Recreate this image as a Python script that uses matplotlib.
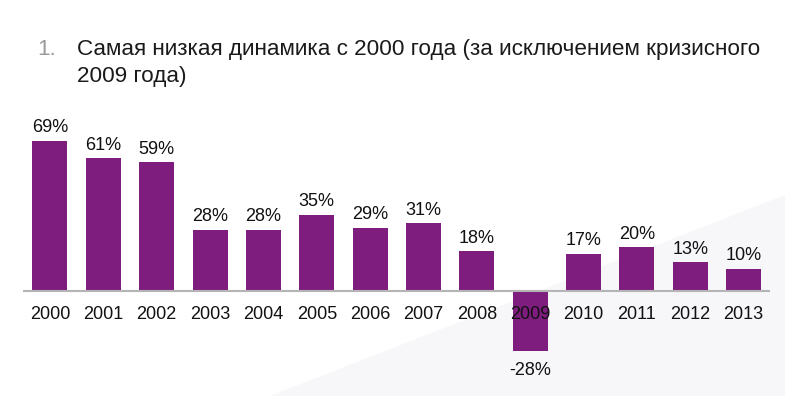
import numpy as np
import matplotlib.pyplot as plt
from matplotlib.patches import Polygon

years = ['2000', '2001', '2002', '2003', '2004', '2005', '2006',
         '2007', '2008', '2009', '2010', '2011', '2012', '2013']
growth = [69, 61, 59, 28, 28, 35, 29, 31, 18, -28, 17, 20, 13, 10]

plt.rcParams['font.family'] = ['Liberation Sans', 'DejaVu Sans']

W, H = 785, 396
fig = plt.figure(figsize=(W / 100, H / 100), dpi=100)

# faint diagonal background shape, bottom right
bg = Polygon([(270 / W, 0), (1, 1 - 195 / H), (1, 0)], closed=True,
             transform=fig.transFigure, facecolor='#F7F7F9',
             edgecolor='none', zorder=-1)
fig.add_artist(bg)

ax = fig.add_axes([23.3 / W, 0.0472, 747 / W, 0.6576])
ax.patch.set_alpha(0)
x = np.arange(len(years))
bars = ax.bar(x, growth, width=0.656, color='#7F1D7F', zorder=2)
ax.axhline(0, color='#B4B4B4', lw=1.5, zorder=3)
ax.set_xlim(-0.5, len(years) - 0.5)
ax.set_ylim(-40, 80)
ax.axis('off')

for xi, v in zip(x, growth):
    if v >= 0:
        ax.annotate(f'{v}%', (xi, v), xytext=(0, 6), textcoords='offset points',
                    ha='center', va='baseline', fontsize=13, color='#111111')
    else:
        ax.annotate(f'{v}%', (xi, v), xytext=(0, -17), textcoords='offset points',
                    ha='center', va='baseline', fontsize=13, color='#111111')

for xi, yr in zip(x, years):
    ax.annotate(yr, (xi, 0), xytext=(0, -20.5), textcoords='offset points',
                ha='center', va='baseline', fontsize=13, color='#111111',
                zorder=5)

fig.text(37 / W, 1 - 55 / H, '1.', fontsize=16.2, color='#9A9A9A', va='baseline')
fig.text(77 / W, 1 - 55 / H,
         'Самая низкая динамика с 2000 года (за исключением кризисного',
         fontsize=16.2, color='#1A1A1A', va='baseline')
fig.text(77 / W, 1 - 82 / H, '2009 года)',
         fontsize=16.2, color='#1A1A1A', va='baseline')

plt.savefig('out.png', dpi=100)
